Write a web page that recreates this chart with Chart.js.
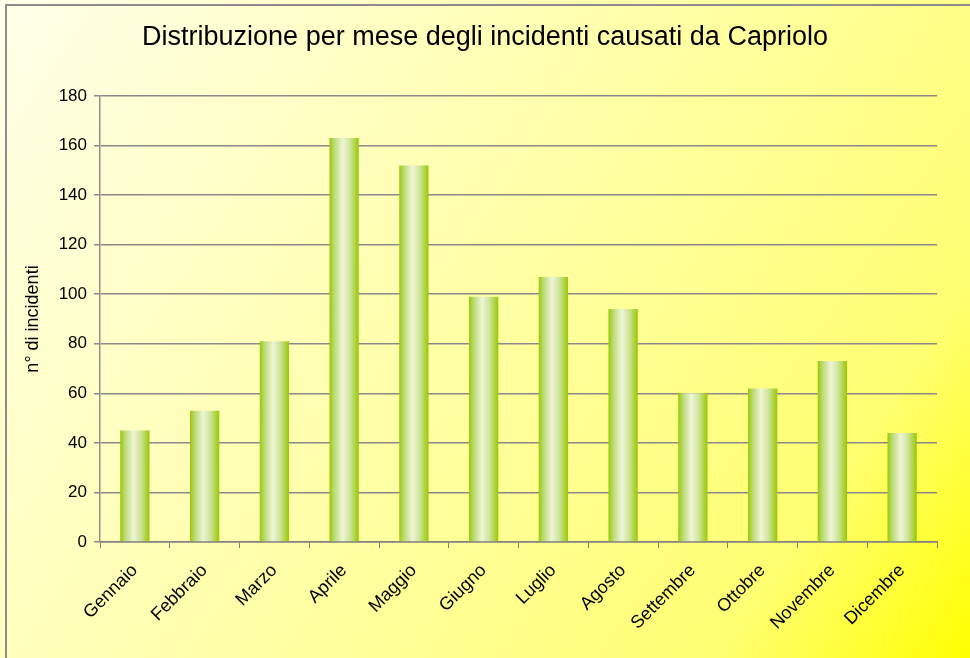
<!DOCTYPE html>
<html>
<head>
<meta charset="utf-8">
<script src="https://cdn.jsdelivr.net/npm/chart.js@4"></script>
<style>
  html, body { margin: 0; padding: 0; background: #ffffff; }
  #wrap { width: 970px; height: 658px; }
</style>
</head>
<body>
<div id="wrap"><canvas id="incidentiChart" width="970" height="658"></canvas></div>
<script>
// Dati
const mesi = ['Gennaio', 'Febbraio', 'Marzo', 'Aprile', 'Maggio', 'Giugno',
              'Luglio', 'Agosto', 'Settembre', 'Ottobre', 'Novembre', 'Dicembre'];
const incidenti = [45, 53, 81, 163, 152, 99, 107, 94, 60, 62, 73, 44];
const tickY = [0, 20, 40, 60, 80, 100, 120, 140, 160, 180];

const FONT = '"Comic Sans MS", "Liberation Sans", sans-serif';
const BAR_PCT = 0.42;

// Sfondo giallo sfumato e bordo grigio
const sfondo = {
    id: 'sfondo',
    beforeDraw(chart) {
        const c = chart.ctx;
        const w = chart.width, h = chart.height;
        const g = c.createLinearGradient(0, 0, w, h);
        g.addColorStop(0, '#ffffea');
        g.addColorStop(0.5, '#ffffa4');
        g.addColorStop(0.82, '#ffff72');
        g.addColorStop(1, '#ffff00');
        c.save();
        c.fillStyle = g;
        c.fillRect(0, 0, w, h);
        c.strokeStyle = '#8c8c8c';
        c.lineWidth = 2;
        c.beginPath();
        c.moveTo(6, h);
        c.lineTo(6, 5);
        c.lineTo(w, 5);
        c.stroke();
        c.restore();
    }
};

// Sfumatura orizzontale per ogni barra (effetto cilindro)
function coloreBarra(context) {
    const chart = context.chart;
    const area = chart.chartArea;
    const x = chart.scales.x;
    if (!area || !x) return '#b5d84a';
    const centro = x.getPixelForValue(context.dataIndex);
    const meta = area.width / mesi.length * BAR_PCT / 2;
    const g = chart.ctx.createLinearGradient(centro - meta, 0, centro + meta, 0);
    g.addColorStop(0, '#99c800');
    g.addColorStop(0.15, '#b9d970');
    g.addColorStop(0.45, '#eef5d6');
    g.addColorStop(0.7, '#cfe49a');
    g.addColorStop(0.92, '#a6d02c');
    g.addColorStop(1, '#99c800');
    return g;
}

const ctx = document.getElementById('incidentiChart').getContext('2d');

new Chart(ctx, {
    type: 'bar',
    data: {
        labels: mesi,
        datasets: [{
            label: 'Incidenti',
            data: incidenti,
            backgroundColor: coloreBarra,
            borderWidth: 0,
            barPercentage: BAR_PCT,
            categoryPercentage: 1
        }]
    },
    options: {
        responsive: false,
        animation: false,
        devicePixelRatio: 1,
        layout: { padding: 0 },
        plugins: {
            legend: { display: false },
            tooltip: { enabled: false },
            title: {
                display: true,
                text: 'Distribuzione per mese degli incidenti causati da Capriolo',
                color: '#000000',
                font: { family: FONT, size: 27, weight: 'normal' },
                padding: { top: 21, bottom: 42.6 }
            }
        },
        scales: {
            x: {
                offset: true,
                afterFit(scale) { scale.height = 116; },
                grid: {
                    offset: true,
                    drawOnChartArea: false,
                    drawTicks: true,
                    tickLength: 6,
                    color: '#808080'
                },
                border: { color: '#808080', width: 1.5 },
                ticks: {
                    color: '#000000',
                    font: { family: FONT, size: 18 },
                    minRotation: 45,
                    maxRotation: 45,
                    padding: 12,
                    autoSkip: false
                }
            },
            y: {
                min: 0,
                max: 180,
                afterFit(scale) { scale.width = 100; },
                afterBuildTicks(scale) {
                    scale.ticks = tickY.map(v => ({ value: v }));
                },
                grid: {
                    color: '#8a8a8a',
                    lineWidth: 1.5,
                    tickLength: 6
                },
                border: { color: '#909090', width: 1.5 },
                ticks: {
                    color: '#000000',
                    font: { family: FONT, size: 17 },
                    padding: 7
                },
                title: {
                    display: true,
                    text: 'n° di incidenti',
                    color: '#000000',
                    font: { family: FONT, size: 18 },
                    padding: { top: 22, bottom: 0 }
                }
            },
            // asse vuoto a destra: solo per lasciare il margine
            margine: {
                type: 'linear',
                position: 'right',
                afterFit(scale) { scale.width = 33; },
                grid: { display: false },
                border: { display: false },
                ticks: { display: false }
            }
        }
    },
    plugins: [sfondo]
});
</script>
</body>
</html>
